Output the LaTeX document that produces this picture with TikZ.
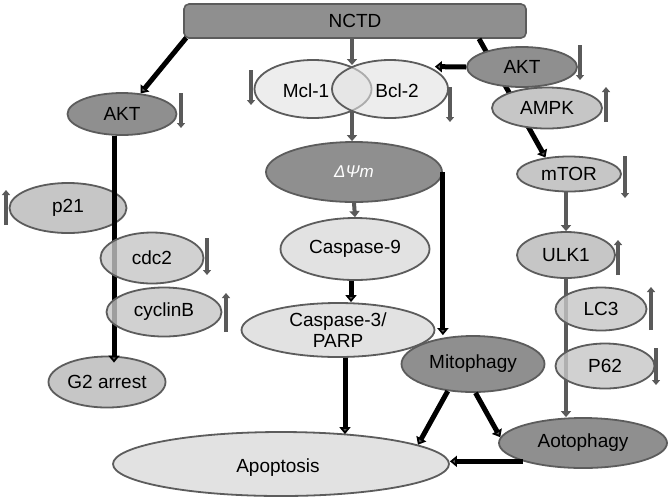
\documentclass[tikz,border=0pt]{standalone}
\usepackage{fontspec}
\setmainfont{Liberation Sans}
\usetikzlibrary{arrows.meta,shapes.geometric,calc}
\definecolor{litec}{HTML}{E2E2E2}
\definecolor{midc}{HTML}{C6C6C6}
\definecolor{darkc}{HTML}{8F8F8F}
\definecolor{bordc}{HTML}{5C5C5C}
\definecolor{arrc}{HTML}{5A5A5A}
\tikzset{
  base/.style={ellipse, draw=bordc, line width=1.8pt, inner sep=0pt,
    font=\fontsize{19}{21}\selectfont, text=black, align=center},
  lite/.style={base, fill=litec},
  midn/.style={base, fill=midc},
  darkn/.style={base, fill=darkc},
  seethru/.style={fill opacity=0.8, text opacity=1},
  lbl/.style={inner sep=0pt, font=\fontsize{19}{21}\selectfont, text=black},
  blk/.style={draw=black, line width=5pt, -{Triangle[length=7pt,width=11pt,fill=arrc]}},
  gry/.style={draw=arrc, line width=4pt, -{Triangle[length=6pt,width=10pt]}},
  ind/.style={draw=arrc, line width=4pt, -{Triangle[length=5pt,width=8pt]}}
}
\begin{document}
\begin{tikzpicture}[x=1pt,y=-1pt]
\useasboundingbox (0,0) rectangle (668,499);
\fill[white] (0,0) rectangle (668,499);

% ---- left branch ----
\node[midn] (p21) at (68,208) [minimum width=117pt, minimum height=50pt] {p21};
\node[darkn] (akt1) at (122,114) [minimum width=109pt, minimum height=42pt] {AKT};
\node[midn] (g2) at (107,382) [minimum width=117pt, minimum height=51pt] {G2 arrest};
\draw[blk] ([xshift=-8pt]akt1.south) -- ([xshift=-8pt,yshift=-7pt]akt1.south |- g2.north);
\node[midn, seethru] (cdc2) at (152,258) [minimum width=103pt, minimum height=51pt] {cdc2};
\node[midn, seethru] (cycb) at (164,312) [minimum width=115pt, minimum height=49pt] {cyclinB};

% ---- top box ----
\node[draw=bordc, line width=1.6pt, fill=darkc, rounded corners=5pt,
      minimum width=342pt, minimum height=34pt, inner sep=0pt,
      font=\fontsize{19}{21}\selectfont] (nctd) at (355,21) {NCTD};
\draw[blk] ([xshift=3pt,yshift=1pt]nctd.south west) -- (akt1.48);

% ---- right branch ----
\node[midn] (mtor) at (569,174) [minimum width=104pt, minimum height=35pt] {mTOR};
\draw[blk] ([xshift=124pt]nctd.south) -- (mtor.145);
\node[darkn] (akt2) at (522,67) [minimum width=110pt, minimum height=40pt] {AKT};
\node[midn] (ampk) at (547,108) [minimum width=110pt, minimum height=41pt] {AMPK};
\node[midn] (ulk1) at (566,255) [minimum width=98pt, minimum height=46pt] {ULK1};
\node[darkn] (aoto) at (583,443) [minimum width=168pt, minimum height=50pt] {Aotophagy};
\draw[gry] (ulk1.north |- mtor.south) -- (ulk1.north);
\draw[gry] (ulk1.south) -- (ulk1.south |- aoto.north);
\node[midn, seethru] (lc3) at (601,309) [minimum width=91pt, minimum height=43pt] {LC3};
\node[midn, seethru] (p62) at (605,366) [minimum width=99pt, minimum height=45pt] {P62};

% ---- middle branch ----
\node[lite, fill opacity=0.6, text opacity=1] (mcl) at (313,89) [minimum width=117pt, minimum height=58pt] {};
\node[lite, fill opacity=0.6, text opacity=1] (bcl) at (390,89) [minimum width=116pt, minimum height=58pt] {};
\node[lbl] (mcltxt) at (306,91) {Mcl-1};
\node[lbl] (bcltxt) at (397,91) {Bcl-2};
\coordinate (lensT) at (352,65);
\coordinate (lensB) at (352,112);
\draw[blk, shorten >=6pt] (akt2.west) -- (bcl.30);
\node[darkn, text=white, font=\fontsize{17}{19}\selectfont\itshape] (dpsi) at (354,172)
      [minimum width=176pt, minimum height=60pt] {ΔΨm};
\node[lite] (casp9) at (355,249) [minimum width=149pt, minimum height=62pt] {Caspase-9};
\node[lite] (casp3) at (338,330) [minimum width=193pt, minimum height=54pt] {Caspase-3/\\PARP};
\node[darkn] (mito) at (473,364) [minimum width=143pt, minimum height=56pt] {Mitophagy};
\node[lite] (apop) at (281,464) [minimum width=336pt, minimum height=64pt] {};
\node[lbl] (apoptxt) at (278,468) {Apoptosis};

\draw[gry] (nctd.south -| lensT) -- (lensT);
\draw[gry] (lensB) -- (lensB |- dpsi.north);
\draw[gry] (dpsi.south) -- (casp9.north);
\draw[blk] ([xshift=-4pt]casp9.south) -- ([xshift=-4pt]casp9.south |- casp3.north);
\draw[blk] ([xshift=7pt]casp3.south) -- ([xshift=7pt,yshift=-3pt]casp3.south |- apop.north);
\draw[blk] (dpsi.east) -- (dpsi.east |- mito.north);
\draw[blk] (mito.227) -- (apop.8);
\draw[blk] (mito.275) -- (aoto.176);
\draw[blk] (aoto.197) -- (aoto.197 -| apop.east);

% ---- up / down indicators ----
\draw[ind] (181,93) -- (181,128);
\draw[ind] (251,70) -- (251,105);
\draw[ind] (450,87) -- (450,122);
\draw[ind] (580,45) -- (580,80);
\draw[ind] (606,122) -- (606,87);
\draw[ind] (625,156) -- (625,198);
\draw[ind] (6,225) -- (6,190);
\draw[ind] (207,238) -- (207,275);
\draw[ind] (226,332) -- (226,293);
\draw[ind] (618,275) -- (618,240);
\draw[ind] (651,330) -- (651,287);
\draw[ind] (656,348) -- (656,385);
\end{tikzpicture}
\end{document}
